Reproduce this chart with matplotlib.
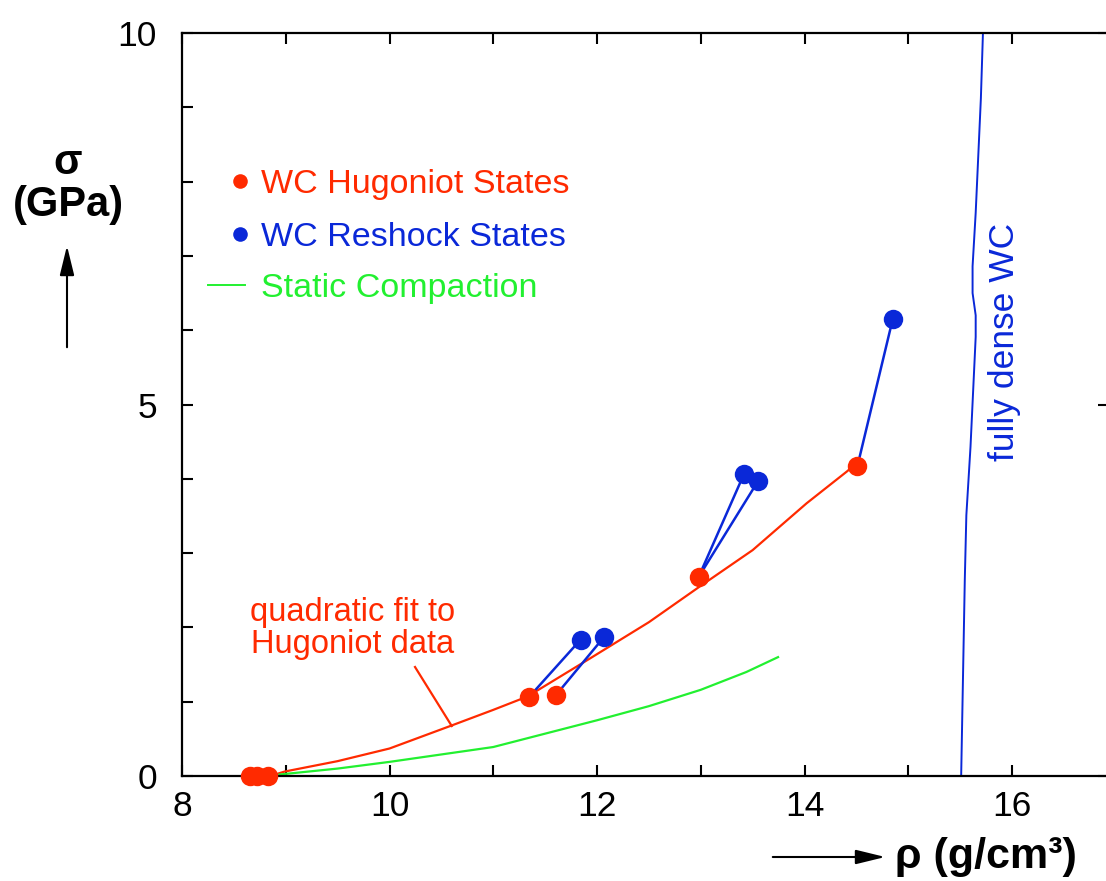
import matplotlib
matplotlib.use("Agg")
import matplotlib.pyplot as plt

plt.rcParams['font.family'] = ['Liberation Sans', 'DejaVu Sans']

# WC Hugoniot states (rho in g/cm3, sigma in GPa)
hug_rho = [8.66, 8.72, 8.83, 11.345, 11.605, 12.98, 14.51]
hug_sig = [0.0, 0.0, 0.0, 1.063, 1.09, 2.68, 4.17]

# reshock states and the Hugoniot state each one starts from
resh_rho = [11.843, 12.065, 13.417, 13.555, 14.85]
resh_sig = [1.837, 1.866, 4.065, 3.975, 6.147]
resh_from = [3, 4, 5, 5, 6]

# quadratic fit to the Hugoniot data
fit_rho = [8.85, 8.99, 9.5, 10.0, 10.58, 11.0, 11.33, 11.93, 12.5, 12.99, 13.50, 14.02, 14.41, 14.50]
fit_sig = [0.0, 0.06, 0.2, 0.37, 0.67, 0.89, 1.07, 1.58, 2.07, 2.55, 3.04, 3.67, 4.10, 4.21]

# static compaction curve
stat_rho = [8.94, 9.5, 10.0, 11.0, 12.0, 12.5, 13.0, 13.44, 13.745]
stat_sig = [0.02, 0.1, 0.19, 0.39, 0.75, 0.94, 1.16, 1.40, 1.60]

# fully dense WC
dense_rho = [15.51, 15.545, 15.56, 15.60, 15.65, 15.65, 15.62, 15.62, 15.65, 15.70, 15.72]
dense_sig = [0.0, 2.64, 3.51, 4.43, 5.91, 6.2, 6.5, 6.86, 7.58, 9.12, 10.0]

RED = '#ff2a00'
BLUE = '#0a28d8'
GREEN = '#22f030'

W, H = 1106, 881
fig = plt.figure(figsize=(W / 100, H / 100), dpi=100)
ax = fig.add_axes([182 / W, 105 / H, 933.75 / W, 743 / H])

ax.plot(fit_rho, fit_sig, color=RED, lw=1.6, zorder=2)
ax.plot(stat_rho, stat_sig, color=GREEN, lw=1.6, zorder=2)
ax.plot(dense_rho, dense_sig, color=BLUE, lw=1.4, zorder=2)

for r, s, i in zip(resh_rho, resh_sig, resh_from):
    ax.plot([hug_rho[i], r], [hug_sig[i], s], color=BLUE, lw=1.8, zorder=3)

ax.plot(hug_rho, hug_sig, 'o', color=RED, ms=14, mec='none', zorder=4, clip_on=False)
ax.plot(resh_rho, resh_sig, 'o', color=BLUE, ms=14, mec='none', zorder=5)

# legend drawn by hand
ax.plot([8.56], [8.01], 'o', color=RED, ms=10.5, mec='none')
ax.text(8.76, 8.01, 'WC Hugoniot States', color=RED, fontsize=24.5, va='center_baseline')
ax.plot([8.56], [7.29], 'o', color=BLUE, ms=10.5, mec='none')
ax.text(8.76, 7.29, 'WC Reshock States', color=BLUE, fontsize=24.5, va='center_baseline')
ax.plot([8.25, 8.61], [6.61, 6.61], color=GREEN, lw=1.4)
ax.text(8.76, 6.61, 'Static Compaction', color=GREEN, fontsize=24.5, va='center_baseline')

# labels inside the plot
ax.text(9.64, 1.98, 'quadratic fit to\nHugoniot data', color=RED, fontsize=23.5,
        ha='center', va='center', linespacing=1.05)
ax.plot([10.246, 10.60], [1.467, 0.673], color=RED, lw=1.6)
ax.text(15.93, 5.84, 'fully dense WC', color=BLUE, fontsize=25.5,
        rotation=90, ha='center', va='center')

ax.set_xlim(8, 17)
ax.set_ylim(0, 10)
ax.set_xticks([8, 10, 12, 14, 16])
ax.set_xticks([9, 11, 13, 15], minor=True)
ax.set_yticks([0, 5, 10])
ax.set_yticks([1, 2, 3, 4, 6, 7, 8, 9], minor=True)
ax.tick_params(which='both', direction='in', length=8, width=1.5,
               top=True, right=False, labelsize=25.5)
ax.tick_params(axis='x', pad=10)
ax.tick_params(axis='y', pad=18)
for side in ['left', 'bottom', 'top']:
    ax.spines[side].set_linewidth(1.6)
ax.spines['right'].set_visible(False)

sec = ax.secondary_yaxis('right')
sec.set_yticks([0, 5, 10])
sec.tick_params(direction='in', length=13, width=1.5, labelright=False)
sec.spines['right'].set_linewidth(1.6)

# axis titles with arrows
fig.text(68 / W, (H - 163) / H, 'σ', fontsize=30, fontweight='bold',
         ha='center', va='center')
fig.text(68 / W, (H - 205) / H, '(GPa)', fontsize=30, fontweight='bold',
         ha='center', va='center')
ax.annotate('', xy=(67, H - 243), xytext=(67, H - 350), xycoords='figure pixels',
            textcoords='figure pixels',
            arrowprops=dict(arrowstyle='-|>,head_length=0.9,head_width=0.22',
                            color='black', lw=1.5, mutation_scale=20))
ax.annotate('', xy=(888, H - 857), xytext=(770, H - 857), xycoords='figure pixels',
            textcoords='figure pixels',
            arrowprops=dict(arrowstyle='-|>,head_length=0.9,head_width=0.22',
                            color='black', lw=1.5, mutation_scale=20))
fig.text(895 / W, (H - 857) / H, 'ρ (g/cm³)', fontsize=31, fontweight='bold',
         ha='left', va='center')

fig.savefig('out.png', dpi=100)
